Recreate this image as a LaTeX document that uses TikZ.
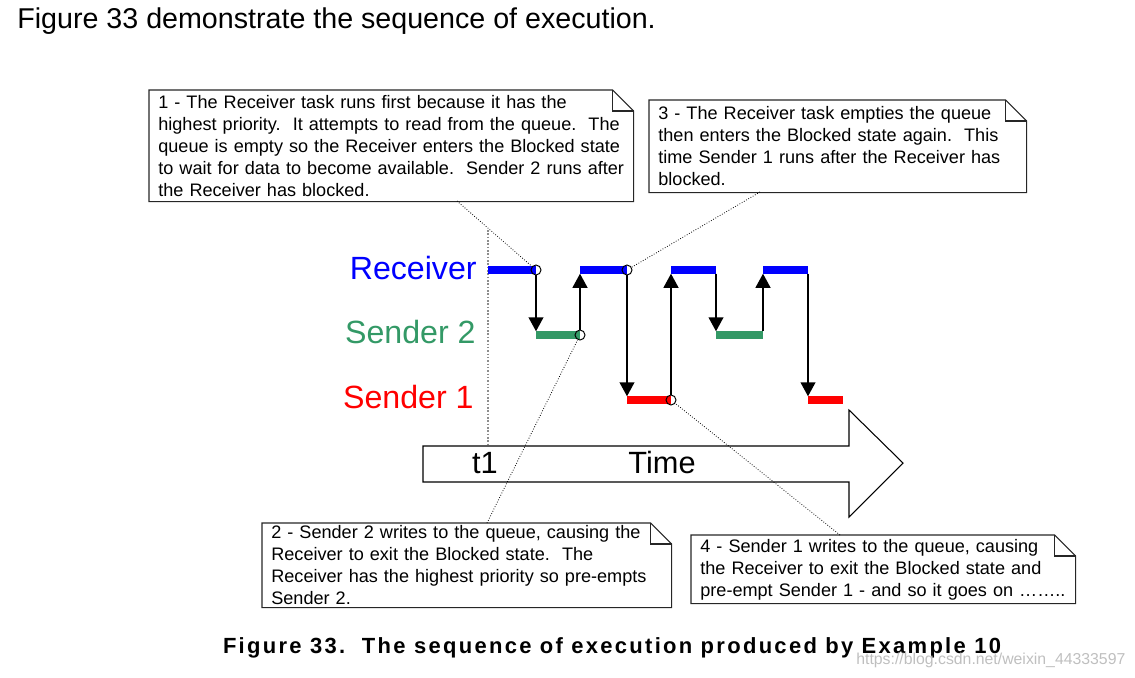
\documentclass[tikz,border=0pt]{standalone}
\usepackage{fontspec}
\setmainfont{Liberation Sans}
\newfontfamily\capfont[LetterSpace=10.5]{Liberation Sans}
\usetikzlibrary{arrows.meta}

\definecolor{rcvblue}{RGB}{0,0,255}
\definecolor{sndgreen}{RGB}{51,153,102}
\definecolor{sndred}{RGB}{255,0,0}

% outline of a callout with a folded corner
\newcommand\foldnote[1]{%
  \draw[noteline] (#1.south west) -- (#1.north west) -- ([xshift=-0.42cm]#1.north east)
    -- ([yshift=-0.42cm]#1.north east) -- (#1.south east) -- cycle;
  \draw[noteline] ([xshift=-0.42cm]#1.north east) |- ([yshift=-0.42cm]#1.north east);
}

\begin{document}
\frenchspacing
\begin{tikzpicture}[x=0.02cm,y=-0.02cm,
  notetext/.style={anchor=north west,align=left,inner xsep=0.18cm,inner ysep=0pt,
    font=\fontsize{10.3}{12.5}\selectfont},
  noteline/.style={draw=black!85,line width=0.6pt},
  tasklabel/.style={anchor=base east,inner sep=0pt,font=\fontsize{18.3}{21}\selectfont},
  taskbar/.style={line width=4.2pt},
  switch/.style={line width=1.1pt,-{Triangle[length=8pt,width=8.4pt]},shorten >=2.1pt},
  ring/.style={draw,circle,inner sep=0pt,minimum size=0.2cm,line width=0.55pt},
  leader/.style={densely dotted,line width=0.45pt}]

  \useasboundingbox (0,0) rectangle (1135,677);

  \node[anchor=base west,inner sep=0pt,font=\fontsize{16.3}{19}\selectfont] (title) at (17,28)
    {Figure 33 demonstrate the sequence of execution.};

  % task names
  \node[tasklabel,text=rcvblue] (rcv) at (477,279) {Receiver};
  \node[tasklabel,text=sndgreen] (snd2) at (476,343) {Sender 2};
  \node[tasklabel,text=sndred] (snd1) at (474,408) {Sender 1};

  % time arrow
  \draw[line width=0.6pt] (423,446) -- (849,446) -- (849,410) -- (903,463)
    -- (849,517) -- (849,482) -- (423,482) -- cycle;
  \node[inner sep=0pt,anchor=base,font=\fontsize{17.5}{20}\selectfont] (t1) at (485,473) {t1};
  \node[inner sep=0pt,anchor=base,font=\fontsize{17.5}{20}\selectfont] (time) at (662,473) {Time};
  \coordinate (t1top) at (488,230);
  \coordinate (t1bot) at (488,446);
  \draw[black!45,densely dotted,line width=0.9pt] (t1top) -- (t1bot);

  % bar ends
  \coordinate (r1a) at (488,270); \coordinate (r1b) at (536,270);
  \coordinate (r2a) at (580,270); \coordinate (r2b) at (627,270);
  \coordinate (r3a) at (671,270); \coordinate (r3b) at (716,270);
  \coordinate (r4a) at (763,270); \coordinate (r4b) at (808,270);
  \coordinate (g1a) at (536,335); \coordinate (g1b) at (580,335);
  \coordinate (g2a) at (716,335); \coordinate (g2b) at (763,335);
  \coordinate (s1a) at (627,400); \coordinate (s1b) at (671,400);
  \coordinate (s2a) at (808,400); \coordinate (s2b) at (843,400);

  \draw[taskbar,rcvblue] (r1a) -- (r1b);
  \draw[taskbar,rcvblue] (r2a) -- (r2b);
  \draw[taskbar,rcvblue] (r3a) -- (r3b);
  \draw[taskbar,rcvblue] (r4a) -- (r4b);
  \draw[taskbar,sndgreen] (g1a) -- (g1b);
  \draw[taskbar,sndgreen] (g2a) -- (g2b);
  \draw[taskbar,sndred] (s1a) -- (s1b);
  \draw[taskbar,sndred] (s2a) -- (s2b);

  \node[ring] (c1) at (r1b) {};
  \node[ring] (c2) at (g1b) {};
  \node[ring] (c3) at (r2b) {};
  \node[ring] (c4) at (s1b) {};

  % context switches
  \draw[switch] (c1) -- (g1a);
  \draw[switch] (c2) -- (r2a);
  \draw[switch] (c3) -- (s1a);
  \draw[switch] (c4) -- (r3a);
  \draw[switch,shorten <=2pt] (r3b) -- (g2a);
  \draw[switch,shorten <=2pt] (g2b) -- (r4a);
  \draw[switch,shorten <=2pt] (r4b) -- (s2a);

  % callouts
  \node[notetext,text width=9.32cm,minimum height=2.22cm] (n1) at (149,90)
    {\mbox{1 - The Receiver task runs first because it has the}\\
     \mbox{highest priority.\ \ It attempts to read from the queue.\ \ The}\\
     \mbox{queue is empty so the Receiver enters the Blocked state}\\
     \mbox{to wait for data to become available.\ \ Sender 2 runs after}\\
     \mbox{the Receiver has blocked.}};
  \foldnote{n1}

  \node[notetext,text width=7.18cm,minimum height=1.84cm] (n3) at (649,100)
    {\mbox{3 - The Receiver task empties the queue}\\
     \mbox{then enters the Blocked state again.\ \ This}\\
     \mbox{time Sender 1 runs after the Receiver has}\\
     \mbox{blocked.}};
  \foldnote{n3}

  \node[notetext,text width=7.82cm,minimum height=1.68cm] (n2) at (262,523)
    {\mbox{2 - Sender 2 writes to the queue, causing the}\\
     \mbox{Receiver to exit the Blocked state.\ \ The}\\
     \mbox{Receiver has the highest priority so pre-empts}\\
     \mbox{Sender 2.}};
  \foldnote{n2}

  \node[notetext,text width=7.32cm,minimum height=1.36cm] (n4) at (691,535)
    {\mbox{4 - Sender 1 writes to the queue, causing}\\
     \mbox{the Receiver to exit the Blocked state and}\\
     \mbox{pre-empt Sender 1 - and so it goes on ……..}};
  \foldnote{n4}

  \coordinate (l1) at (457,201);
  \coordinate (l3) at (760,192);
  \coordinate (l2) at (487,523);
  \coordinate (l4) at (840,535);
  \draw[leader] (l1) -- (c1);
  \draw[leader] (l3) -- (c3);
  \draw[leader] (l2) -- (c2);
  \draw[leader] (l4) -- (c4);

  \node[anchor=base,inner sep=0pt,font=\capfont\bfseries\fontsize{12.5}{14}\selectfont] (caption) at (612,653)
    {Figure 33.\ \ The sequence of execution produced by Example 10};
  \node[anchor=base west,inner sep=0pt,text=black!25,font=\fontsize{9}{10}\selectfont] (mark) at (856,664)
    {https://blog.csdn.net/weixin\_44333597};

\end{tikzpicture}
\end{document}
